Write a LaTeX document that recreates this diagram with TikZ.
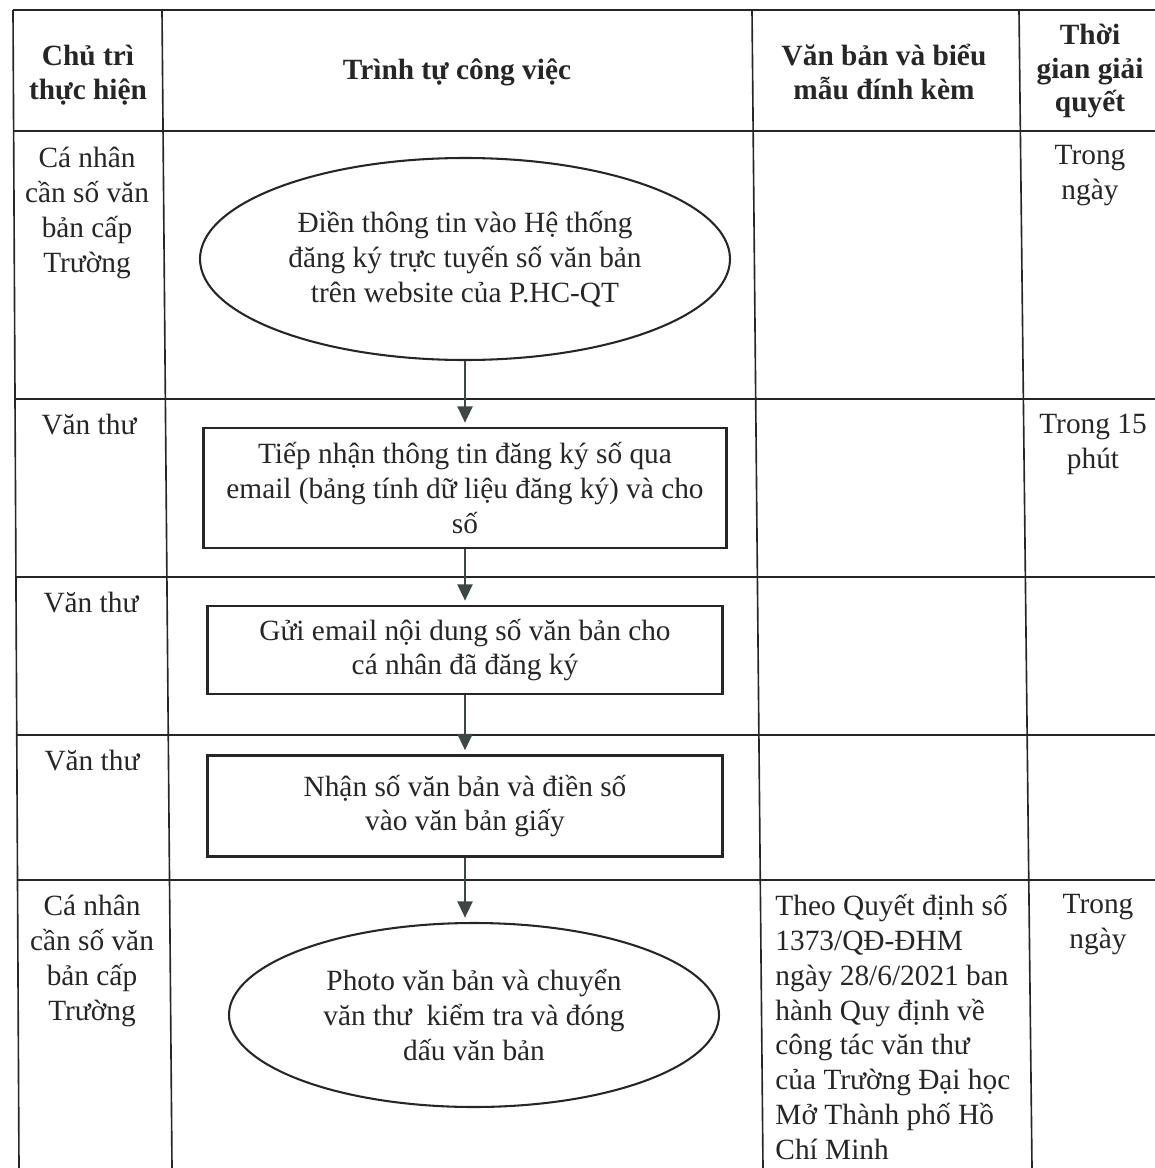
\documentclass[tikz,border=0pt]{standalone}
\usepackage{fontspec}
\setmainfont{Liberation Serif}
\usepackage{xcolor}
\usepackage{tikz}
\usetikzlibrary{arrows.meta}
\usetikzlibrary{shapes}
\usetikzlibrary{positioning}
\definecolor{ink}{HTML}{262626}
\definecolor{arrowink}{HTML}{3E4842}

\begin{document}
\begin{tikzpicture}[
        x=0.46pt, y=-0.46pt,
        every node/.style={font=\fontsize{13.5}{16}\selectfont, text=ink},
        grid/.style={draw=ink, line width=0.75pt},
        stepbox/.style={draw=ink, line width=0.95pt, rectangle, inner sep=0pt, align=center},
        term/.style={draw=ink, line width=0.95pt, ellipse, inner sep=0pt, align=center},
        flow/.style={draw=arrowink, line width=0.8pt, shorten >=2pt, -{Triangle[length=7.5pt, width=7pt]}},
        head/.style={font=\bfseries\fontsize{13.5}{15.5}\selectfont, align=center},
        cell/.style={align=center, inner sep=0pt}
    ]

    %=== Scale: one unit = one pixel of the page ===%
    \def\pxu{0.46pt}
    \useasboundingbox (0,0) rectangle (1155,1168);

    % Table rules
    \foreach \yy/\xl in {10/13, 131/14, 399/15, 577/16, 735/17, 880/18}
        \draw[grid] (\xl,\yy) -- (1155,\yy);
    \foreach \xt/\xb in {13/19, 162/172, 752/763, 1019/1032}
        \draw[grid] (\xt,10) -- (\xb,1168);

    %=== Header ===%
    \node[head] (hlead) at (88,75) {Chủ trì\\thực hiện};
    \node[head] (hsteps) at (457,72) {Trình tự công việc};
    \node[head] (hdocs) at (884,72) {Văn bản và biểu\\mẫu đính kèm};
    \node[head] (htime) at (1090,71) {Thời\\gian giải\\quyết};

    %=== Who ===%
    \node[cell, anchor=north] (lead1) at (87,147) {Cá nhân\\cần số văn\\bản cấp\\Trường};
    \node[cell, anchor=north] (lead2) at (89,414) {Văn thư};
    \node[cell, anchor=north] (lead3) at (91,592) {Văn thư};
    \node[cell, anchor=north] (lead4) at (92,750) {Văn thư};
    \node[cell, anchor=north] (lead5) at (92,895) {Cá nhân\\cần số văn\\bản cấp\\Trường};

    %=== Steps ===%
    \node[term, minimum width=530*\pxu, minimum height=202*\pxu] (fillin) at (465,259)
        {Điền thông tin vào Hệ thống\\đăng ký trực tuyến số văn bản\\trên website của P.HC-QT};
    \node[stepbox, minimum width=523*\pxu, minimum height=120*\pxu] (receive) at (465,488)
        {Tiếp nhận thông tin đăng ký số qua\\email (bảng tính dữ liệu đăng ký) và cho\\số};
    \node[stepbox, minimum width=515*\pxu, minimum height=88*\pxu] (sendmail) at (465,650)
        {Gửi email nội dung số văn bản cho\\cá nhân đã đăng ký};
    \node[stepbox, minimum width=515*\pxu, minimum height=101*\pxu] (number) at (465,806)
        {Nhận số văn bản và điền số\\vào văn bản giấy};
    \node[term, minimum width=490*\pxu, minimum height=184*\pxu] (stamp) at (474,1015)
        {Photo văn bản và chuyển\\văn thư\ \ kiểm tra và đóng\\dấu văn bản};

    \draw[flow] (fillin) -- (receive);
    \draw[flow] (receive) -- (sendmail);
    \draw[flow] (sendmail) -- (number);
    \draw[flow] (number.south) -- (number.south |- stamp.north);

    %=== Documents and time ===%
    \node[cell, anchor=north west, align=left] (docs5) at (775,894)
        {Theo Quyết định số\\1373/QĐ-ĐHM\\ngày 28/6/2021 ban\\hành Quy định về\\công tác văn thư\\của Trường Đại học\\Mở Thành phố Hồ\\Chí Minh};
    \node[cell, anchor=north] (time1) at (1090,145) {Trong\\ngày};
    \node[cell, anchor=north] (time2) at (1093,414) {Trong 15\\phút};
    \node[cell, anchor=north] (time5) at (1098,894) {Trong\\ngày};

\end{tikzpicture}
\end{document}
